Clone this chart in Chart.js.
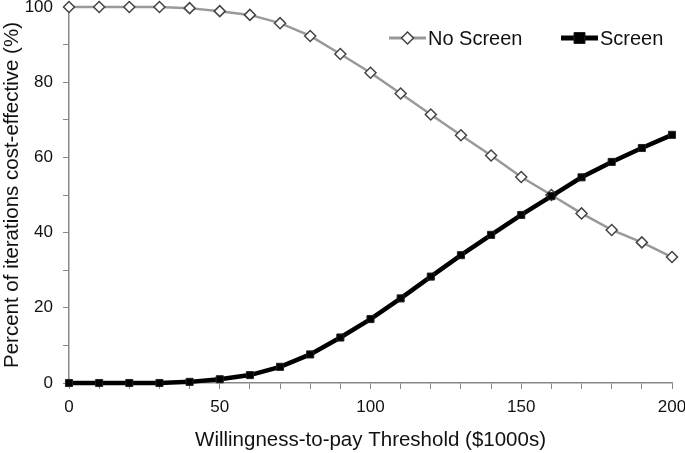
<!DOCTYPE html>
<html>
<head>
<meta charset="utf-8">
<script src="https://cdn.jsdelivr.net/npm/chart.js@4"></script>
<style>
  html, body { margin: 0; padding: 0; background: #fff; }
  #wrap { width: 685px; height: 453px; }
</style>
</head>
<body>
<div id="wrap"><canvas id="chart"></canvas></div>
<script>
const thresholds = [0, 10, 20, 30, 40, 50, 60, 70, 80, 90, 100, 110, 120, 130, 140, 150, 160, 170, 180, 190, 200];
const noScreen = [100, 100, 100, 100, 99.7, 98.9, 97.9, 95.7, 92.3, 87.5, 82.5, 77.0, 71.4, 65.9, 60.5, 54.8, 50.0, 45.1, 40.7, 37.4, 33.5];
const screen = [0, 0, 0, 0, 0.3, 1.0, 2.1, 4.3, 7.6, 12.1, 17.0, 22.5, 28.3, 34.0, 39.4, 44.7, 49.7, 54.7, 58.8, 62.5, 66.0];
const seriesNames = ["No Screen", "Screen"];

const font = "'Liberation Sans', Arial, sans-serif";
Chart.defaults.font.family = font;
Chart.defaults.color = "#111";

const toPoints = (ys) => thresholds.map((x, i) => ({ x, y: ys[i] }));

// legend drawn by hand: long line sample with the marker in the middle
const lineLegend = {
  id: "lineLegend",
  afterDraw(chart) {
    const ctx = chart.ctx;
    const y = 38;
    const items = [
      { x: 389, lw: 3, ds: chart.data.datasets[0] },
      { x: 561, lw: 5, ds: chart.data.datasets[1] }
    ];
    ctx.save();
    items.forEach(({ x, lw, ds }) => {
      ctx.strokeStyle = ds.borderColor;
      ctx.lineWidth = lw;
      ctx.beginPath();
      ctx.moveTo(x, y);
      ctx.lineTo(x + 37, y);
      ctx.stroke();
      const cx = x + 18.5;
      const r = ds.pointRadius + 0.5;
      ctx.fillStyle = ds.pointBackgroundColor;
      ctx.strokeStyle = ds.pointBorderColor;
      ctx.lineWidth = ds.pointBorderWidth;
      ctx.beginPath();
      if (ds.pointStyle === "rectRot") {
        ctx.moveTo(cx, y - r);
        ctx.lineTo(cx + r, y);
        ctx.lineTo(cx, y + r);
        ctx.lineTo(cx - r, y);
        ctx.closePath();
      } else {
        ctx.rect(cx - r, y - r, 2 * r, 2 * r);
      }
      ctx.fill();
      ctx.stroke();
      ctx.fillStyle = "#111";
      ctx.font = "20px " + font;
      ctx.textBaseline = "middle";
      ctx.fillText(ds.label, x + 39, y + 1);
    });
    ctx.restore();
  }
};

new Chart(document.getElementById("chart"), {
  type: "line",
  data: {
    datasets: [
      {
        label: seriesNames[0],
        data: toPoints(noScreen),
        borderColor: "#999",
        borderWidth: 2.5,
        pointStyle: "rectRot",
        pointRadius: 5.5,
        pointBackgroundColor: "#fff",
        pointBorderColor: "#444",
        pointBorderWidth: 1.5,
        clip: false,
        order: 2
      },
      {
        label: seriesNames[1],
        data: toPoints(screen),
        borderColor: "#000",
        borderWidth: 4.5,
        pointStyle: "rect",
        pointRadius: 5,
        pointBackgroundColor: "#000",
        pointBorderColor: "#222",
        pointBorderWidth: 1,
        clip: false,
        order: 1
      }
    ]
  },
  options: {
    responsive: true,
    maintainAspectRatio: false,
    animation: false,
    layout: { padding: { top: 7, right: 13, left: 0, bottom: 0 } },
    plugins: {
      legend: { display: false },
      tooltip: { enabled: false }
    },
    scales: {
      x: {
        type: "linear",
        min: 0,
        max: 200,
        afterFit: (s) => { s.height = 70; s.paddingLeft = 0; s.paddingRight = 0; },
        border: { color: "#888", width: 1.5 },
        grid: { drawOnChartArea: false, color: "#888", tickLength: 6 },
        ticks: {
          stepSize: 10,
          autoSkip: false,
          maxRotation: 0,
          padding: 8,
          font: { size: 17 },
          callback: (v) => (v % 50 === 0 ? v : "")
        },
        title: {
          display: true,
          text: "Willingness-to-pay Threshold ($1000s)",
          font: { size: 20.5 },
          padding: { top: 0, bottom: 0 }
        }
      },
      y: {
        min: 0,
        max: 100,
        afterFit: (s) => { s.width = 69; s.paddingTop = 0; s.paddingBottom = 0; },
        border: { color: "#888", width: 1.5 },
        grid: { drawOnChartArea: false, color: "#888", tickLength: 6 },
        ticks: {
          stepSize: 10,
          autoSkip: false,
          padding: 10,
          font: { size: 17 },
          callback: (v) => (v % 20 === 0 ? v : "")
        },
        title: {
          display: true,
          text: "Percent of iterations cost-effective (%)",
          font: { size: 20.5 },
          padding: { top: 0, bottom: 0 }
        }
      }
    }
  },
  plugins: [lineLegend]
});
</script>
</body>
</html>
